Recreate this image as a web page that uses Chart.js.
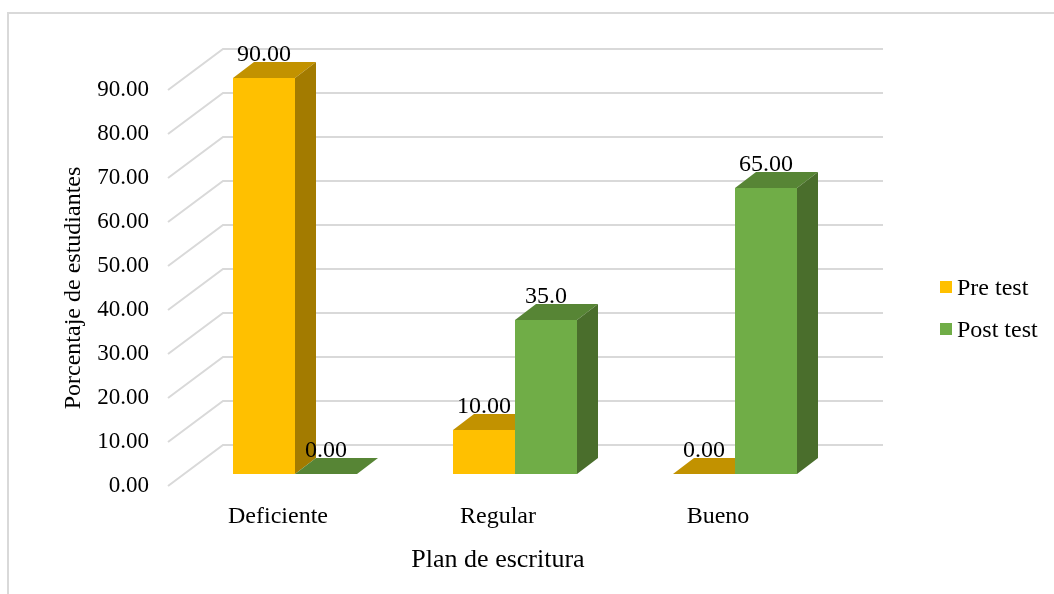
<!DOCTYPE html>
<html>

<head>
    <title>Plan de escritura</title>
    <script src="https://cdn.jsdelivr.net/npm/chart.js"></script>
    <style>
        body {
            margin: 0;
            background: #ffffff;
        }

        .chart-box {
            position: relative;
            width: 1054px;
            height: 594px;
        }
    </style>
</head>

<body>
    <div class="chart-box">
        <canvas id="barChart"></canvas>
    </div>

    <script>
        // Chart data
        const categories = ['Deficiente', 'Regular', 'Bueno'];
        const preTest = [90, 10, 0];
        const postTest = [0, 35, 65];
        const preLabels = ['90.00', '10.00', '0.00'];
        const postLabels = ['0.00', '35.0', '65.00'];
        const yTicks = [0, 10, 20, 30, 40, 50, 60, 70, 80, 90];
        const xTitle = 'Plan de escritura';
        const yTitle = 'Porcentaje de estudiantes';

        const serif = "'Liberation Serif', 'Times New Roman', serif";
        Chart.defaults.font.family = serif;
        Chart.defaults.color = '#000000';

        // shading for the 3d faces (front colour comes from the dataset)
        const faces = [
            { top: '#C29200', side: '#A37B00' },
            { top: '#578535', side: '#4A6E2C' }
        ];
        const barDepth = { dx: 21, dy: -16 };
        const wallBack = { dx: 38, dy: -29 };
        const wallFront = { dx: -17, dy: 12 };

        const depthPlugin = {
            id: 'depth3d',
            beforeDraw(chart) {
                const ctx = chart.ctx;
                ctx.save();
                ctx.strokeStyle = '#D9D9D9';
                ctx.lineWidth = 2;
                ctx.beginPath();
                ctx.moveTo(8, chart.height);
                ctx.lineTo(8, 13);
                ctx.lineTo(chart.width, 13);
                ctx.stroke();
                ctx.restore();
            },
            beforeDatasetsDraw(chart) {
                const ctx = chart.ctx;
                const area = chart.chartArea;
                const y = chart.scales.y;
                ctx.save();
                // back wall + left wall grid lines
                ctx.strokeStyle = '#D9D9D9';
                ctx.lineWidth = 2;
                yTicks.forEach(v => {
                    const py = y.getPixelForValue(v);
                    ctx.beginPath();
                    ctx.moveTo(area.left + wallFront.dx, py + wallFront.dy);
                    ctx.lineTo(area.left + wallBack.dx, py + wallBack.dy);
                    ctx.lineTo(area.right + wallBack.dx, py + wallBack.dy);
                    ctx.stroke();
                });
                // top and side faces of every bar
                chart.data.datasets.forEach((ds, i) => {
                    const meta = chart.getDatasetMeta(i);
                    meta.data.forEach(bar => {
                        const p = bar.getProps(['x', 'y', 'base', 'width'], true);
                        const l = p.x - p.width / 2;
                        const r = p.x + p.width / 2;
                        ctx.fillStyle = faces[i].top;
                        ctx.beginPath();
                        ctx.moveTo(l, p.y);
                        ctx.lineTo(l + barDepth.dx, p.y + barDepth.dy);
                        ctx.lineTo(r + barDepth.dx, p.y + barDepth.dy);
                        ctx.lineTo(r, p.y);
                        ctx.closePath();
                        ctx.fill();
                        ctx.fillStyle = faces[i].side;
                        ctx.beginPath();
                        ctx.moveTo(r, p.y);
                        ctx.lineTo(r + barDepth.dx, p.y + barDepth.dy);
                        ctx.lineTo(r + barDepth.dx, p.base + barDepth.dy);
                        ctx.lineTo(r, p.base);
                        ctx.closePath();
                        ctx.fill();
                    });
                });
                ctx.restore();
            },
            afterDatasetsDraw(chart) {
                const ctx = chart.ctx;
                ctx.save();
                ctx.font = '24px ' + serif;
                ctx.fillStyle = '#000000';
                ctx.textAlign = 'center';
                ctx.textBaseline = 'alphabetic';
                chart.data.datasets.forEach((ds, i) => {
                    const meta = chart.getDatasetMeta(i);
                    meta.data.forEach((bar, j) => {
                        const p = bar.getProps(['x', 'y'], true);
                        ctx.fillText(ds.valueLabels[j], p.x, p.y - 17);
                    });
                });
                ctx.restore();
            },
            afterDraw(chart) {
                const ctx = chart.ctx;
                const area = chart.chartArea;
                const y = chart.scales.y;
                ctx.save();
                ctx.fillStyle = '#000000';
                ctx.textAlign = 'center';
                ctx.textBaseline = 'alphabetic';
                // axis titles sit on the front plane, so shift them with the depth
                ctx.font = '26px ' + serif;
                ctx.fillText(xTitle, (area.left + area.right) / 2 + wallFront.dx, 567);
                ctx.save();
                ctx.font = '24px ' + serif;
                ctx.translate(80, (y.top + y.bottom) / 2 + wallFront.dy);
                ctx.rotate(-Math.PI / 2);
                ctx.fillText(yTitle, 0, 0);
                ctx.restore();
                // legend on the right
                ctx.font = '24px ' + serif;
                ctx.textAlign = 'left';
                chart.data.datasets.forEach((ds, i) => {
                    const top = 281 + i * 42;
                    ctx.fillStyle = ds.backgroundColor;
                    ctx.fillRect(940, top, 12, 12);
                    ctx.fillStyle = '#000000';
                    ctx.fillText(ds.label, 957, top + 14);
                });
                ctx.restore();
            }
        };

        const ctx = document.getElementById('barChart').getContext('2d');
        const chart = new Chart(ctx, {
            type: 'bar',
            data: {
                labels: categories,
                datasets: [{
                    label: 'Pre test',
                    data: preTest,
                    valueLabels: preLabels,
                    backgroundColor: '#FFC000',
                    borderWidth: 0
                }, {
                    label: 'Post test',
                    data: postTest,
                    valueLabels: postLabels,
                    backgroundColor: '#70AD47',
                    borderWidth: 0
                }]
            },
            options: {
                responsive: true,
                maintainAspectRatio: false,
                animation: false,
                barPercentage: 1,
                categoryPercentage: 124 / 220,
                layout: {
                    padding: { left: 57, top: 78, right: 209, bottom: 10 }
                },
                plugins: {
                    legend: { display: false },
                    tooltip: { enabled: false }
                },
                scales: {
                    x: {
                        grid: { display: false, drawTicks: false },
                        border: { display: false },
                        ticks: {
                            padding: 28,
                            labelOffset: -17,
                            font: { size: 24 }
                        },
                        afterFit(scale) { scale.height = 110; }
                    },
                    y: {
                        min: 0,
                        max: 90,
                        grid: { display: false, drawTicks: false },
                        border: { display: false },
                        ticks: {
                            stepSize: 10,
                            padding: 36,
                            labelOffset: 12,
                            font: { size: 23 },
                            callback: v => v.toFixed(2)
                        },
                        afterFit(scale) { scale.width = 128; }
                    }
                }
            },
            plugins: [depthPlugin]
        });
    </script>
</body>

</html>
